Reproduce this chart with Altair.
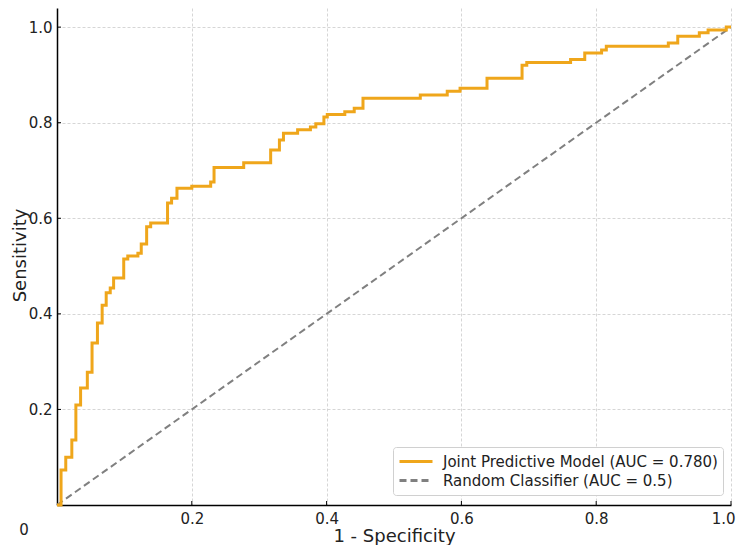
import altair as alt
import pandas as pd

# ROC curve (step points: x where the rise occurs, y after rise)
roc_fpr = [0.0, 0.006, 0.013, 0.022, 0.028, 0.035, 0.045, 0.052, 0.060, 0.067, 0.073,
           0.079, 0.084, 0.099, 0.105, 0.120, 0.125, 0.133, 0.139, 0.164, 0.170, 0.178,
           0.200, 0.228, 0.233, 0.277, 0.317, 0.330, 0.336, 0.357, 0.376, 0.384, 0.396,
           0.401, 0.427, 0.441, 0.454, 0.539, 0.579, 0.598, 0.638, 0.690, 0.697, 0.762,
           0.783, 0.808, 0.815, 0.907, 0.921, 0.953, 0.966, 0.993, 1.0]
roc_tpr = [0.0, 0.073, 0.100, 0.136, 0.209, 0.245, 0.278, 0.339, 0.381, 0.418, 0.444,
           0.454, 0.475, 0.515, 0.521, 0.527, 0.546, 0.582, 0.590, 0.632, 0.642, 0.663,
           0.667, 0.676, 0.706, 0.716, 0.743, 0.764, 0.778, 0.785, 0.791, 0.798, 0.812,
           0.817, 0.823, 0.830, 0.851, 0.858, 0.866, 0.872, 0.893, 0.920, 0.926, 0.932,
           0.946, 0.952, 0.960, 0.967, 0.981, 0.988, 0.994, 1.0, 1.0]
diag_x = [0.0, 1.0]
diag_y = [0.0, 1.0]

series_names = ["Joint Predictive Model (AUC = 0.780)", "Random Classifier (AUC = 0.5)"]
series_colors = ["#EFA61B", "#808080"]
series_dash = [[1, 0], [7, 4]]

tick_vals = [0.2, 0.4, 0.6, 0.8, 1.0]
corner_label = ["0"]

FONT = "DejaVu Sans"
W, H = 674, 497

roc_df = pd.DataFrame({"x": roc_fpr, "y": roc_tpr, "series": series_names[0]})
diag_df = pd.DataFrame({"x": diag_x, "y": diag_y, "series": series_names[1]})
xt_df = pd.DataFrame({"x": tick_vals})
yt_df = pd.DataFrame({"y": tick_vals})
zero_df = pd.DataFrame({"t": corner_label})

common_axis = dict(values=tick_vals, format=".1f", grid=True, gridDash=[3, 2],
                   gridColor="#cccccc", gridWidth=0.8, ticks=False,
                   domainColor="black", domainWidth=1.5,
                   labelFont=FONT, labelFontSize=15, labelColor="#222222",
                   titleFont=FONT, titleFontSize=18, titleColor="#222222",
                   titleFontWeight="normal")

x_enc = alt.X("x:Q", scale=alt.Scale(domain=[0, 1], nice=False, zero=False),
              axis=alt.Axis(title="1 - Specificity", labelPadding=6, labelFlush=True,
                            labelFlushOffset=4, labelOverlap=False,
                            titleX=W / 2, titleY=36, titleBaseline="alphabetic",
                            titleAlign="center", **common_axis))
y_enc = alt.Y("y:Q", scale=alt.Scale(domain=[0, 1.04], nice=False, zero=False),
              axis=alt.Axis(title="Sensitivity", labelPadding=5,
                            titleX=-32, titleY=247, titleAngle=270,
                            titleBaseline="alphabetic", titleAlign="center",
                            **common_axis))

legend = alt.Legend(orient="none", legendX=336, legendY=439, title=None,
                    symbolType="stroke", symbolSize=1089, symbolStrokeWidth=3,
                    labelFont=FONT, labelFontSize=15, labelColor="#222222",
                    labelOffset=9, labelLimit=400, padding=5, rowPadding=0,
                    clipHeight=19,
                    fillColor="white", strokeColor="#d0d0d0", cornerRadius=3)

color_enc = alt.Color("series:N", scale=alt.Scale(domain=series_names, range=series_colors),
                      legend=legend)
dash_enc = alt.StrokeDash("series:N", scale=alt.Scale(domain=series_names, range=series_dash),
                          legend=legend)

roc = alt.Chart(roc_df).mark_line(interpolate="step-after", strokeWidth=3).encode(
    x=x_enc, y=y_enc, color=color_enc, strokeDash=dash_enc)
diag = alt.Chart(diag_df).mark_line(strokeWidth=2).encode(
    x=x_enc, y=y_enc, color=color_enc, strokeDash=dash_enc)

xticks = alt.Chart(xt_df).mark_rule(color="black", strokeWidth=1).encode(
    x=x_enc, y=alt.value(H), y2=alt.value(H - 4))
yticks = alt.Chart(yt_df).mark_rule(color="black", strokeWidth=1).encode(
    y=y_enc, x=alt.value(0), x2=alt.value(4))

zero_txt = alt.Chart(zero_df).mark_text(font=FONT, fontSize=15, color="#222222",
                                        align="center", baseline="middle").encode(
    text="t:N", x=alt.value(-33), y=alt.value(522))

chart = alt.layer(diag, roc, xticks, yticks, zero_txt).properties(
    width=W, height=H,
    autosize=alt.AutoSizeParams(type="none"),
    padding={"left": 49, "top": 0, "right": 5, "bottom": 40},
    background="white",
).configure_view(stroke=None)

chart.save("out.html", embed_options={"renderer": "svg", "actions": False})
